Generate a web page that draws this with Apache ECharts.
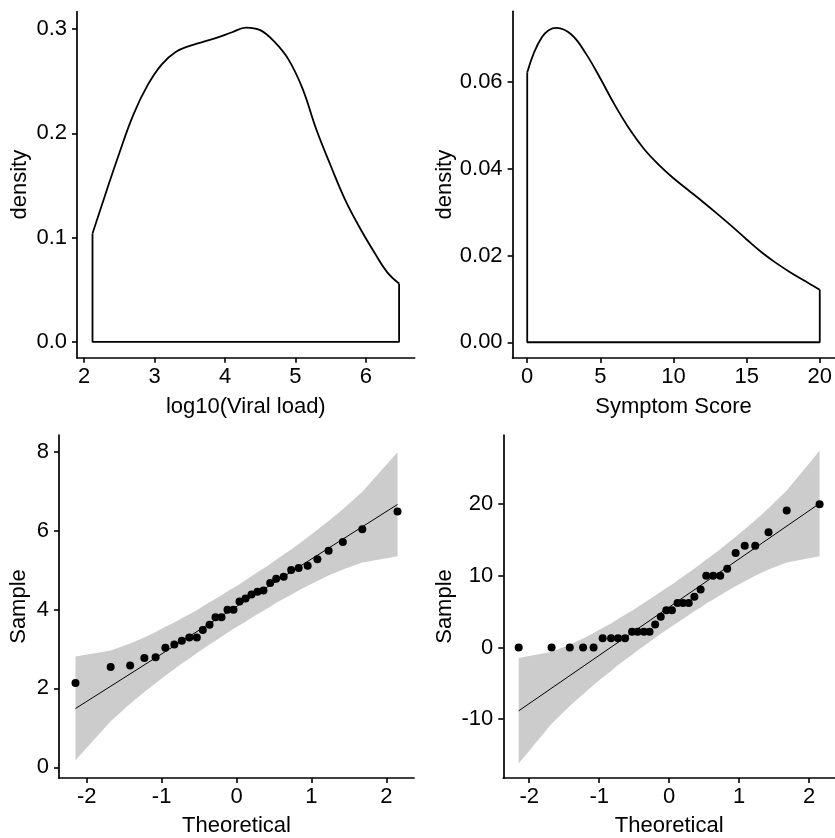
<!DOCTYPE html>
<html>
<head>
<meta charset="utf-8">
<script src="https://cdn.jsdelivr.net/npm/echarts@6/dist/echarts.min.js"></script>
<style>
  html, body { margin: 0; padding: 0; background: #fff; }
  #chart { width: 835px; height: 838px; }
</style>
</head>
<body>
<div id="chart"></div>
<script>
// Kernel density of log10 viral load
const viralX = [2.12, 2.3, 2.5, 2.7, 2.9, 3.1, 3.3, 3.5, 3.7, 3.9, 4.1, 4.3, 4.5, 4.7, 4.9, 5.1, 5.3, 5.5, 5.7, 5.9, 6.1, 6.3, 6.47];
const viralDensity = [0.104, 0.141, 0.181, 0.218, 0.246, 0.266, 0.278, 0.284, 0.288, 0.292, 0.297, 0.3015, 0.299, 0.288, 0.271, 0.243, 0.203, 0.169, 0.137, 0.111, 0.088, 0.067, 0.056];

// Kernel density of symptom score
const symptomX = [0, 1, 2, 3, 4, 5, 6, 7, 8, 9, 10, 11, 12, 13, 14, 15, 16, 17, 18, 19, 20];
const symptomDensity = [0.0622, 0.0703, 0.0725, 0.0710, 0.0666, 0.0608, 0.0546, 0.0491, 0.0445, 0.0409, 0.0378, 0.0351, 0.0324, 0.0296, 0.0267, 0.0237, 0.0208, 0.0183, 0.0161, 0.0141, 0.0121];

// Theoretical normal quantiles (32 observations)
const theoretical = [-2.15, -1.68, -1.42, -1.23, -1.08, -0.95, -0.83, -0.73, -0.63, -0.53, -0.45, -0.36, -0.28, -0.2, -0.12, -0.04,
                     0.04, 0.12, 0.2, 0.28, 0.36, 0.45, 0.53, 0.63, 0.73, 0.83, 0.95, 1.08, 1.23, 1.42, 1.68, 2.15];

// Sorted sample values
const viralSample = [2.14, 2.54, 2.58, 2.77, 2.79, 3.03, 3.11, 3.21, 3.29, 3.29, 3.48, 3.61, 3.8, 3.8, 3.99, 3.99,
                     4.2, 4.28, 4.38, 4.45, 4.48, 4.67, 4.78, 4.83, 5.0, 5.05, 5.11, 5.27, 5.49, 5.71, 6.03, 6.48];
const symptomSample = [0, 0, 0, 0, 0, 1.3, 1.3, 1.3, 1.3, 2.2, 2.2, 2.2, 2.2, 3.2, 4.3, 5.2,
                       5.2, 6.2, 6.2, 6.2, 7.1, 8.1, 10, 10, 10, 11, 13.2, 14.2, 14.2, 16.1, 19.1, 20];

// Reference lines (end points)
const viralLineX = [-2.15, 2.15];
const viralLineY = [1.49, 6.66];
const symptomLineX = [-2.15, 2.15];
const symptomLineY = [-8.83, 20.1];

// Confidence envelopes at each theoretical quantile
const viralUpper = [2.81, 2.96, 3.14, 3.29, 3.43, 3.56, 3.67, 3.78, 3.88, 3.98, 4.08, 4.18, 4.27, 4.36, 4.46, 4.55,
                    4.64, 4.74, 4.84, 4.94, 5.04, 5.15, 5.26, 5.39, 5.52, 5.66, 5.83, 6.02, 6.24, 6.54, 6.98, 7.98];
const viralLower = [0.18, 1.17, 1.61, 1.91, 2.13, 2.32, 2.49, 2.63, 2.76, 2.89, 3.0, 3.11, 3.21, 3.31, 3.41, 3.51,
                    3.6, 3.69, 3.79, 3.88, 3.97, 4.07, 4.17, 4.27, 4.37, 4.48, 4.6, 4.72, 4.86, 5.01, 5.19, 5.35];
const symptomUpper = [-1.47, -0.6, 0.39, 1.26, 2.02, 2.72, 3.37, 3.98, 4.57, 5.13, 5.67, 6.2, 6.73, 7.25, 7.77, 8.29,
                      8.81, 9.35, 9.9, 10.46, 11.04, 11.65, 12.29, 12.97, 13.72, 14.53, 15.44, 16.5, 17.77, 19.43, 21.91, 27.46];
const symptomLower = [-16.19, -10.64, -8.16, -6.5, -5.23, -4.17, -3.26, -2.45, -1.7, -1.02, -0.38, 0.23, 0.81, 1.38, 1.92, 2.46,
                      2.98, 3.5, 4.02, 4.54, 5.07, 5.6, 6.14, 6.71, 7.29, 7.9, 8.55, 9.25, 10.02, 10.88, 11.87, 12.74];

// Tick labels
const viralTicks = [2, 3, 4, 5, 6];
const density1Ticks = [0, 0.1, 0.2, 0.3];
const symptomTicks = [0, 5, 10, 15, 20];
const density2Ticks = [0, 0.02, 0.04, 0.06];
const theoTicks = [-2, -1, 0, 1, 2];
const sample1Ticks = [0, 2, 4, 6, 8];
const sample2Ticks = [-10, 0, 10, 20];

const FONT = "'Liberation Sans', Arial, sans-serif";
const INK = '#000';

function zip(xs, ys) { return xs.map((x, i) => [x, ys[i]]); }

function axis(opts) {
  return Object.assign({
    type: 'value',
    nameLocation: 'middle',
    nameTextStyle: { fontFamily: FONT, fontSize: 22, color: INK },
    axisLine: { show: true, onZero: false, lineStyle: { color: INK, width: 1.7 } },
    axisTick: { show: true, inside: false, length: 5, lineStyle: { color: INK, width: 1.6 }, customValues: opts.ticks },
    axisLabel: { show: true, fontFamily: FONT, fontSize: 22, color: INK, margin: opts.margin,
                 customValues: opts.ticks, formatter: opts.fmt || (v => String(v)) },
    splitLine: { show: false }
  }, opts.extra);
}

// Closed outline of a density estimate: left edge, baseline, right edge
function densityFrame(xs, ys) {
  const n = xs.length - 1;
  return [[xs[0], ys[0]], [xs[0], 0], [xs[n], 0], [xs[n], ys[n]]];
}

function bandSeries(idx, xs, upper, lower) {
  const ring = zip(xs, upper).concat(zip(xs, lower).reverse());
  return {
    type: 'custom', xAxisIndex: idx, yAxisIndex: idx, silent: true, z: 1,
    data: [[xs[0], lower[0]]],
    renderItem: function (params, api) {
      return {
        type: 'polygon',
        shape: { points: ring.map(p => api.coord(p)) },
        style: { fill: '#cccccc', stroke: null }
      };
    }
  };
}

const grids = [
  { left: 77, top: 11.7, width: 337.6, height: 346 },
  { left: 512.6, top: 11.3, width: 324.5, height: 346.7 },
  { left: 59, top: 435, width: 355, height: 348.3 },
  { left: 503.3, top: 435, width: 334.5, height: 346.7 }
];

const pointStyle = { color: '#000', opacity: 1 };

const option = {
  animation: false,
  backgroundColor: '#fff',
  grid: grids,
  xAxis: [
    axis({ ticks: viralTicks, margin: 8, extra: { gridIndex: 0, min: 1.9, max: 6.69, name: 'log10(Viral load)', nameGap: 38 } }),
    axis({ ticks: symptomTicks, margin: 8, extra: { gridIndex: 1, min: -1, max: 21, name: 'Symptom Score', nameGap: 38 } }),
    axis({ ticks: theoTicks, margin: 8, extra: { gridIndex: 2, min: -2.37, max: 2.37, name: 'Theoretical', nameGap: 37 } }),
    axis({ ticks: theoTicks, margin: 8, extra: { gridIndex: 3, min: -2.37, max: 2.37, name: 'Theoretical', nameGap: 37 } })
  ],
  yAxis: [
    axis({ ticks: density1Ticks, margin: 10, fmt: v => v.toFixed(1),
           extra: { gridIndex: 0, min: -0.0151, max: 0.3167, name: 'density', nameGap: 46 } }),
    axis({ ticks: density2Ticks, margin: 10, fmt: v => v.toFixed(2),
           extra: { gridIndex: 1, min: -0.00363, max: 0.0763, name: 'density', nameGap: 57 } }),
    axis({ ticks: sample1Ticks, margin: 10,
           extra: { gridIndex: 2, min: -0.27, max: 8.42, name: 'Sample', nameGap: 29 } }),
    axis({ ticks: sample2Ticks, margin: 10,
           extra: { gridIndex: 3, min: -18.2, max: 29.65, name: 'Sample', nameGap: 47 } })
  ],
  series: [
    // Density outlines
    { type: 'line', xAxisIndex: 0, yAxisIndex: 0, data: zip(viralX, viralDensity), smooth: 0.4,
      showSymbol: false, lineStyle: { color: INK, width: 1.8 } },
    { type: 'line', xAxisIndex: 0, yAxisIndex: 0, data: densityFrame(viralX, viralDensity),
      showSymbol: false, lineStyle: { color: INK, width: 1.8 } },
    { type: 'line', xAxisIndex: 1, yAxisIndex: 1, data: zip(symptomX, symptomDensity), smooth: 0.4,
      showSymbol: false, lineStyle: { color: INK, width: 1.8 } },
    { type: 'line', xAxisIndex: 1, yAxisIndex: 1, data: densityFrame(symptomX, symptomDensity),
      showSymbol: false, lineStyle: { color: INK, width: 1.8 } },

    // Q-Q plot: viral load
    bandSeries(2, theoretical, viralUpper, viralLower),
    { type: 'line', xAxisIndex: 2, yAxisIndex: 2, z: 2, data: zip(viralLineX, viralLineY),
      showSymbol: false, lineStyle: { color: '#000', width: 1 } },
    { type: 'scatter', xAxisIndex: 2, yAxisIndex: 2, z: 3, data: zip(theoretical, viralSample),
      symbolSize: 8, itemStyle: pointStyle },

    // Q-Q plot: symptom score
    bandSeries(3, theoretical, symptomUpper, symptomLower),
    { type: 'line', xAxisIndex: 3, yAxisIndex: 3, z: 2, data: zip(symptomLineX, symptomLineY),
      showSymbol: false, lineStyle: { color: '#000', width: 1 } },
    { type: 'scatter', xAxisIndex: 3, yAxisIndex: 3, z: 3, data: zip(theoretical, symptomSample),
      symbolSize: 8, itemStyle: pointStyle }
  ]
};

const chart = echarts.init(document.getElementById('chart'), null, { renderer: 'canvas' });
chart.setOption(option);
</script>
</body>
</html>
